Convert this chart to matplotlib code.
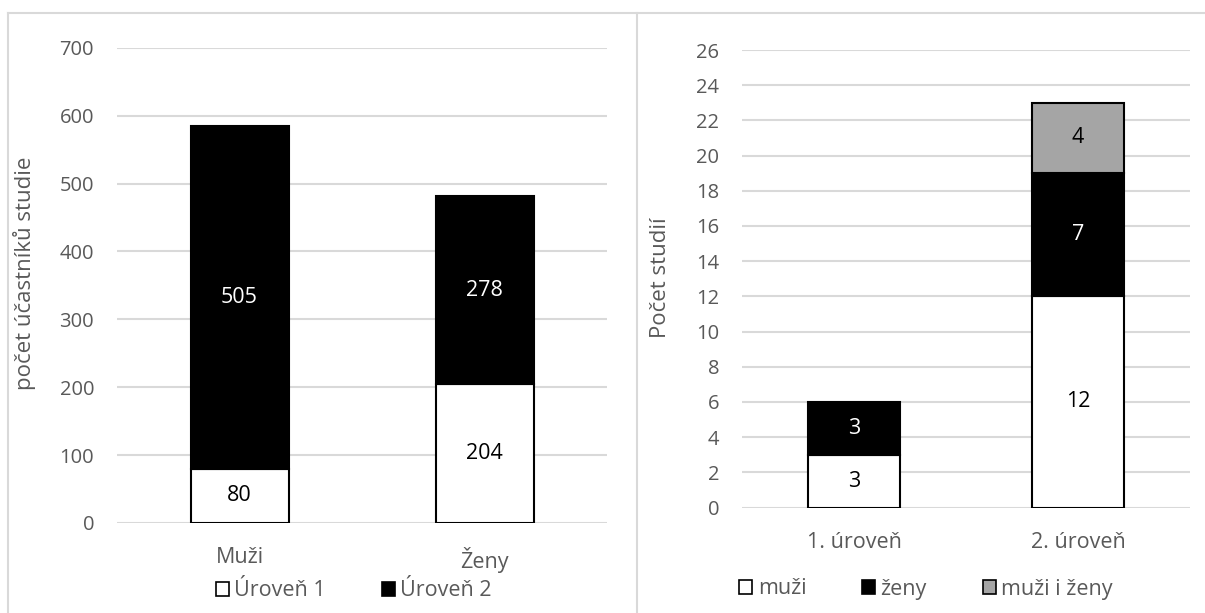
import matplotlib.pyplot as plt
from matplotlib.lines import Line2D
from matplotlib.patches import Patch

plt.rcParams['font.family'] = ['Open Sans', 'DejaVu Sans']

# levý graf: počet účastníků podle pohlaví
kategorie_l = ['Muži', 'Ženy']
uroven1 = [80, 204]
uroven2 = [505, 278]

# pravý graf: počet studií podle úrovně
kategorie_p = ['1. úroveň', '2. úroveň']
muzi = [3, 12]
zeny = [3, 7]
muzi_i_zeny = [0, 4]

SEDA_TEXT = '#595959'
MRIZKA = '#D9D9D9'
FS = 14.5      # čísla na ose y
FS_TXT = 15.5  # kategorie, legenda, popisky hodnot
FS_OSA = 16    # názvy os

fig = plt.figure(figsize=(12.05, 6.13), dpi=100)

# rámečky kolem obou grafů
for xs, ys in [([8 / 1205, 1], [1 - 13 / 613] * 2),
               ([8 / 1205] * 2, [0, 1 - 13 / 613]),
               ([637 / 1205] * 2, [0, 1 - 13 / 613])]:
    fig.add_artist(Line2D(xs, ys, color=MRIZKA, lw=1.5, transform=fig.transFigure))


def styl_os(ax, ymax, krok, popis, x_popisu, y_popisu):
    ax.set_ylim(0, ymax)
    ax.set_xlim(-0.5, 1.5)
    ax.set_yticks(range(0, ymax + 1, krok))
    for s in ax.spines.values():
        s.set_visible(False)
    ax.grid(axis='y', color=MRIZKA, lw=1.5)
    ax.set_axisbelow(True)
    ax.tick_params(length=0, labelcolor=SEDA_TEXT)
    ax.tick_params(axis='y', pad=16.5, labelsize=FS)
    ax.tick_params(axis='x', pad=17.5, labelsize=FS_TXT)
    ax.set_ylabel(popis, fontsize=FS_OSA, color=SEDA_TEXT)
    ax.yaxis.set_label_coords(x_popisu, y_popisu)


def popisky(ax, x, spodek, hodnoty, barva):
    for xi, b, h in zip(x, spodek, hodnoty):
        if h:
            ax.text(xi, b + h / 2, str(h), ha='center', va='center',
                    fontsize=FS_TXT, color=barva)


def legenda(polozky, stred):
    fig.legend(handles=[Patch(facecolor=c, edgecolor='black', lw=1.2, label=t)
                        for t, c in polozky],
               loc='center', bbox_to_anchor=stred, ncol=len(polozky),
               frameon=False, fontsize=FS_TXT, labelcolor=SEDA_TEXT,
               handlelength=0.6, handleheight=0.6, handletextpad=0.25,
               columnspacing=2.6)


# --- levý graf ---
ax1 = fig.add_axes([117 / 1205, 1 - 523 / 613, 490 / 1205, 475.3 / 613])
x = range(len(kategorie_l))
w = 0.4
ax1.bar(x, uroven1, w, color='white', edgecolor='black', lw=1.5)
ax1.bar(x, uroven2, w, bottom=uroven1, color='black', edgecolor='black', lw=1.5)
popisky(ax1, x, [0, 0], uroven1, 'black')
popisky(ax1, x, uroven1, uroven2, 'white')
ax1.set_xticks(list(x), kategorie_l)
styl_os(ax1, 700, 100, 'počet účastníků studie', -0.165, 0.525)
legenda([('Úroveň 1', 'white'), ('Úroveň 2', 'black')],
        (354 / 1205, 1 - 591 / 613))

# --- pravý graf ---
ax2 = fig.add_axes([742 / 1205, 1 - 507.5 / 613, 448 / 1205, 457.5 / 613])
x = range(len(kategorie_p))
w = 0.41
spodek3 = [a + b for a, b in zip(muzi, zeny)]
ax2.bar(x, muzi, w, color='white', edgecolor='black', lw=1.5)
ax2.bar(x, zeny, w, bottom=muzi, color='black', edgecolor='black', lw=1.5)
for xi, b, h in zip(x, spodek3, muzi_i_zeny):
    if h:
        ax2.bar(xi, h, w, bottom=b, color='#A5A5A5', edgecolor='black', lw=1.5)
popisky(ax2, x, [0, 0], muzi, 'black')
popisky(ax2, x, muzi, zeny, 'white')
popisky(ax2, x, spodek3, muzi_i_zeny, 'black')
ax2.set_xticks(list(x), kategorie_p)
styl_os(ax2, 26, 2, 'Počet studií', -0.158, 0.503)
legenda([('muži', 'white'), ('ženy', 'black'), ('muži i ženy', '#A5A5A5')],
        (926 / 1205, 1 - 589 / 613))

fig.savefig('out.png', dpi=100)
